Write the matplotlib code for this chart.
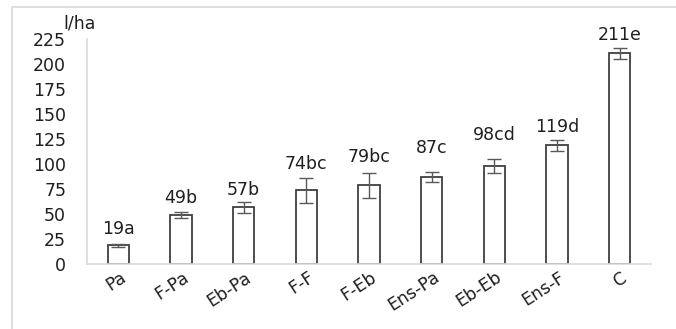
import matplotlib
matplotlib.use('Agg')
import matplotlib.pyplot as plt
from matplotlib.patches import Rectangle
from matplotlib.transforms import ScaledTranslation

plt.rcParams['font.family'] = ['DejaVu Sans']

tratamientos = ['Pa', 'F-Pa', 'Eb-Pa', 'F-F', 'F-Eb', 'Ens-Pa', 'Eb-Eb', 'Ens-F', 'C']
medias = [19, 49, 57, 74, 79, 87, 98, 119, 211]
errores = [1.5, 3, 5.5, 12.5, 12.5, 5, 7, 5.5, 5.5]
etiquetas = ['19a', '49b', '57b', '74bc', '79bc', '87c', '98cd', '119d', '211e']
alto_etiqueta = [35, 66, 74, 100, 107, 116, 129, 137, 229]

fs = 12.5
color_txt = '#1f1f1f'

fig = plt.figure(figsize=(6.76, 3.29), dpi=100)
fig.patches.append(Rectangle((12/676, -0.1), 1.2, 1 - 7/329 + 0.1, transform=fig.transFigure,
                             fill=False, edgecolor='#d9d9d9', linewidth=1.2))
ax = fig.add_axes([87/676, 65/329, 564/676, 225/329])

x = range(len(tratamientos))
ax.bar(x, medias, width=0.34, color='white', edgecolor='#404040', linewidth=1.3, zorder=2)
ax.errorbar(x, medias, yerr=errores, fmt='none', ecolor='#595959', elinewidth=1, capsize=5, capthick=1, zorder=3)
for i, txt in enumerate(etiquetas):
    ax.text(i, alto_etiqueta[i], txt, ha='center', va='center', fontsize=fs, color=color_txt)

ax.set_xlim(-0.5, len(tratamientos) - 0.5)
ax.set_ylim(0, 225)
ax.set_yticks(range(0, 226, 25))
ax.set_xticks(list(x))
ax.set_xticklabels(tratamientos, rotation=33, ha='right', va='top', rotation_mode='anchor')
ax.tick_params(axis='both', length=0, labelsize=fs, labelcolor=color_txt)
ax.tick_params(axis='y', pad=15)
ax.tick_params(axis='x', pad=3)
desplaza = ScaledTranslation(1/100, 0, fig.dpi_scale_trans)
for lab in ax.get_xticklabels():
    lab.set_transform(lab.get_transform() + desplaza)
for s in ['top', 'right']:
    ax.spines[s].set_visible(False)
for s in ['left', 'bottom']:
    ax.spines[s].set_color('#d9d9d9')
    ax.spines[s].set_linewidth(1.2)

fig.text(63/676, 1 - 23/329, 'l/ha', ha='left', va='center', fontsize=fs, color=color_txt)

fig.savefig('out.png', dpi=100)
